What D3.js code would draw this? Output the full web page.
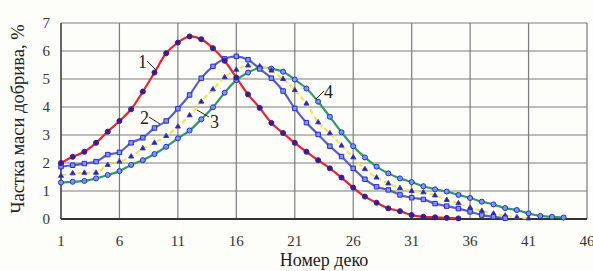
<!DOCTYPE html>
<html lang="uk">
<head>
<meta charset="utf-8">
<title>Частка маси добрива</title>
<style>
  html,body{margin:0;background:#fdfdf9;overflow:hidden;}
  svg{display:block;font-family:"Liberation Serif","DejaVu Serif",serif;}
</style>
</head>
<body>
<div id="chart"></div>
<script src="https://cdn.jsdelivr.net/npm/d3@7"></script>
<script>
// deck numbers (x) and tick labels
const xTicks = [1, 6, 11, 16, 21, 26, 31, 36, 41, 46];
const yTicks = [0, 1, 2, 3, 4, 5, 6, 7];

// share of fertiliser mass, %
const s1 = [2.0, 2.22, 2.4, 2.72, 3.12, 3.5, 3.92, 4.55, 5.23, 5.92, 6.3, 6.52, 6.42, 6.1, 5.65,
            5.05, 4.45, 3.97, 3.43, 3.07, 2.72, 2.4, 2.1, 1.81, 1.48, 1.12, 0.8, 0.58, 0.38, 0.28,
            0.14, 0.08, 0.06, 0.04, 0.02];
const s2 = [1.87, 1.92, 1.98, 2.05, 2.3, 2.38, 2.72, 2.9, 3.25, 3.5, 3.94, 4.43, 5.03, 5.45, 5.72,
            5.81, 5.69, 5.36, 5.03, 4.57, 3.95, 3.44, 3.02, 2.6, 2.23, 1.81, 1.42, 1.15, 1.04, 0.86,
            0.76, 0.7, 0.55, 0.46, 0.37, 0.26, 0.14, 0.08, 0.03];
const s3 = [1.54, 1.63, 1.65, 1.65, 1.93, 2.05, 2.23, 2.52, 2.72, 2.96, 3.3, 3.7, 4.19, 4.63, 5.06,
            5.33, 5.48, 5.45, 5.3, 5.0, 4.6, 4.12, 3.45, 3.06, 2.62, 2.2, 1.78, 1.48, 1.27, 1.1,
            1.0, 0.95, 0.84, 0.68, 0.56, 0.4, 0.29, 0.19, 0.12, 0.06, 0.02];
const s4 = [1.3, 1.33, 1.36, 1.45, 1.57, 1.71, 1.93, 2.1, 2.32, 2.58, 2.88, 3.16, 3.56, 3.99, 4.51,
            4.96, 5.23, 5.4, 5.37, 5.26, 4.98, 4.66, 4.19, 3.65, 3.1, 2.6, 2.2, 1.87, 1.63, 1.45,
            1.32, 1.17, 1.06, 0.98, 0.86, 0.75, 0.62, 0.52, 0.39, 0.32, 0.2, 0.11, 0.08, 0.05];

const seriesNames = ["1", "2", "3", "4"];

const W = 593, H = 271;
const m = {left: 61, right: 6, top: 23, bottom: 52};

const svg = d3.select("#chart").append("svg")
    .attr("width", W)
    .attr("height", H);

const x = d3.scaleLinear().domain([1, 46]).range([m.left, W - m.right]);
const y = d3.scaleLinear().domain([0, 7]).range([H - m.bottom, m.top]);

// grid
svg.append("g")
    .selectAll("line.h")
    .data(yTicks.slice(1))
    .enter().append("line")
    .attr("x1", x(1)).attr("x2", x(46))
    .attr("y1", d => y(d)).attr("y2", d => y(d))
    .attr("stroke", "#7c7c7c").attr("stroke-width", 1.2);
svg.append("g")
    .selectAll("line.v")
    .data(xTicks.slice(1))
    .enter().append("line")
    .attr("x1", d => x(d)).attr("x2", d => x(d))
    .attr("y1", y(0)).attr("y2", y(7))
    .attr("stroke", "#7c7c7c").attr("stroke-width", 1.2);

// axes
svg.append("line")
    .attr("x1", x(1)).attr("x2", x(1)).attr("y1", y(0)).attr("y2", y(7))
    .attr("stroke", "#333").attr("stroke-width", 1.5);
svg.append("line")
    .attr("x1", x(1)).attr("x2", x(46)).attr("y1", y(0)).attr("y2", y(0))
    .attr("stroke", "#333").attr("stroke-width", 2);

svg.append("g")
    .selectAll("text")
    .data(yTicks)
    .enter().append("text")
    .attr("x", 50).attr("y", d => y(d) + 5)
    .attr("text-anchor", "end")
    .attr("font-size", 15).attr("fill", "#333")
    .text(d => d);

svg.append("g")
    .selectAll("text")
    .data(xTicks)
    .enter().append("text")
    .attr("x", d => x(d)).attr("y", 246)
    .attr("text-anchor", "middle")
    .attr("font-size", 15).attr("fill", "#333")
    .text(d => d);

svg.append("text")
    .attr("x", (x(1) + x(46)) / 2).attr("y", 266)
    .attr("text-anchor", "middle")
    .attr("font-size", 18).attr("fill", "#222")
    .text("Номер деко");

svg.append("text")
    .attr("transform", `translate(24,${(y(0) + y(7)) / 2 - 2}) rotate(-90)`)
    .attr("text-anchor", "middle")
    .attr("font-size", 18.5).attr("fill", "#222")
    .text("Частка маси добрива, %");

// series
const series = [
    {data: s1, line: "#e8232d", dash: null, marker: "circle", fill: "#3a1f8c", stroke: "#3a1f8c", size: 20},
    {data: s2, line: "#5b5fc4", dash: null, marker: "square", fill: "#8a90ea", stroke: "#1f2fd8", size: 20},
    {data: s3, line: "#f2e44a", dash: "5,3", marker: "triangle", fill: "#24268a", stroke: "#3a3ad0", size: 11},
    {data: s4, line: "#2f9a68", dash: null, marker: "circle", fill: "#7a98e4", stroke: "#1f34d0", size: 20}
];

const line = d3.line()
    .x((d, i) => x(i + 1))
    .y(d => y(d))
    .curve(d3.curveCatmullRom.alpha(0.5));

// draw lines back to front (4 first)
series.slice().reverse().forEach(s => {
    svg.append("path")
        .datum(s.data)
        .attr("d", line)
        .attr("fill", "none")
        .attr("stroke", s.line)
        .attr("stroke-width", 2.2)
        .attr("stroke-dasharray", s.dash);
});

const symType = {circle: d3.symbolCircle, square: d3.symbolSquare, triangle: d3.symbolTriangle};

series.slice().reverse().forEach(s => {
    svg.append("g")
        .selectAll("path")
        .data(s.data)
        .enter().append("path")
        .attr("d", d3.symbol().type(symType[s.marker]).size(s.size))
        .attr("transform", (d, i) => `translate(${x(i + 1)},${y(d)})`)
        .attr("fill", s.fill)
        .attr("stroke", s.stroke)
        .attr("stroke-width", 1);
});

// curve labels with short leaders
const labels = [
    {t: "1", tx: 138, ty: 68, x1: 147, y1: 61, x2: 156, y2: 70},
    {t: "2", tx: 140, ty: 124, x1: 149, y1: 117, x2: 160, y2: 124},
    {t: "3", tx: 210, ty: 128, x1: 197, y1: 110, x2: 209, y2: 117},
    {t: "4", tx: 324, ty: 98, x1: 316, y1: 99, x2: 324, y2: 91}
];
labels.forEach(l => {
    svg.append("line")
        .attr("x1", l.x1).attr("y1", l.y1).attr("x2", l.x2).attr("y2", l.y2)
        .attr("stroke", "#222").attr("stroke-width", 1);
    svg.append("text")
        .attr("x", l.tx).attr("y", l.ty)
        .attr("font-size", 18).attr("fill", "#222")
        .text(l.t);
});
</script>
</body>
</html>
